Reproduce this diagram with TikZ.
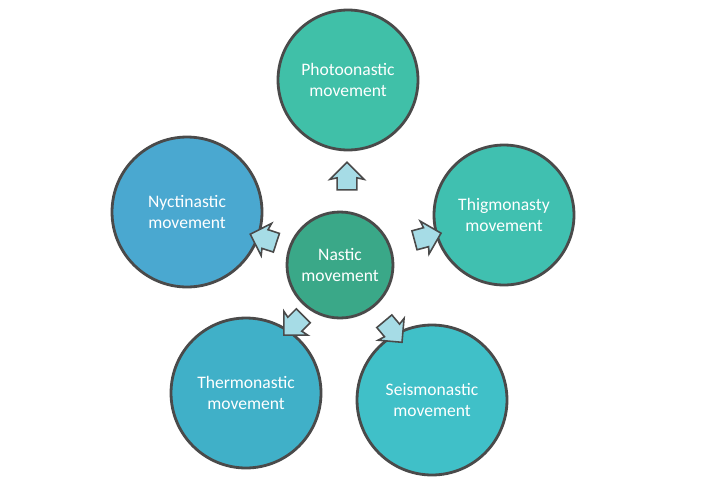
\documentclass[tikz,border=0pt]{standalone}
\usepackage{fontspec}
\setmainfont{Carlito}
\usetikzlibrary{shapes.arrows}
\definecolor{rimgray}{HTML}{4A4A4A}
\definecolor{arrfill}{HTML}{A6DCE6}
\tikzset{
  bubble/.style={circle, draw=rimgray, line width=1.6pt, text=white, align=center, font=\normalsize},
  arr/.style={single arrow, draw=rimgray, line width=0.9pt, fill=arrfill, minimum width=0.68cm, single arrow head extend=0.07cm, single arrow head indent=0.03cm, minimum height=0.55cm, inner sep=0.08cm}
}
\begin{document}
\begin{tikzpicture}[x=0.02cm, y=-0.02cm]
      \useasboundingbox (0,0) rectangle (720,501);
      \node[bubble, fill={rgb,255:red,58;green,168;blue,136}, minimum size=2.12cm] (Nastic) at (340,265) {Nastic\\movement};
      \node[bubble, fill={rgb,255:red,64;green,192;blue,168}, minimum size=2.8cm] (Photo) at (348,80) {Photoonastic\\movement};
      \node[bubble, fill={rgb,255:red,74;green,168;blue,208}, minimum size=3.0cm] (Nycti) at (187,212) {Nyctinastic\\movement};
      \node[bubble, fill={rgb,255:red,64;green,192;blue,176}, minimum size=2.8cm] (Thigmo) at (504,215) {Thigmonasty\\movement};
      \node[bubble, fill={rgb,255:red,64;green,176;blue,200}, minimum size=3.0cm] (Thermo) at (246,393) {Thermonastic\\movement};
      \node[bubble, fill={rgb,255:red,64;green,192;blue,200}, minimum size=3.0cm] (Seismo) at (432,400) {Seismonastic\\movement};
      \node[arr, rotate=90] (ToPhoto) at (347,181) {};
      \node[arr, rotate=162] (ToNycti) at (268,240) {};
      \node[arr, rotate=15] (ToThigmo) at (423,238) {};
      \node[arr, rotate=225] (ToThermo) at (297,322) {};
      \node[arr, rotate=-50] (ToSeismo) at (390,328) {};
\end{tikzpicture}
\end{document}
